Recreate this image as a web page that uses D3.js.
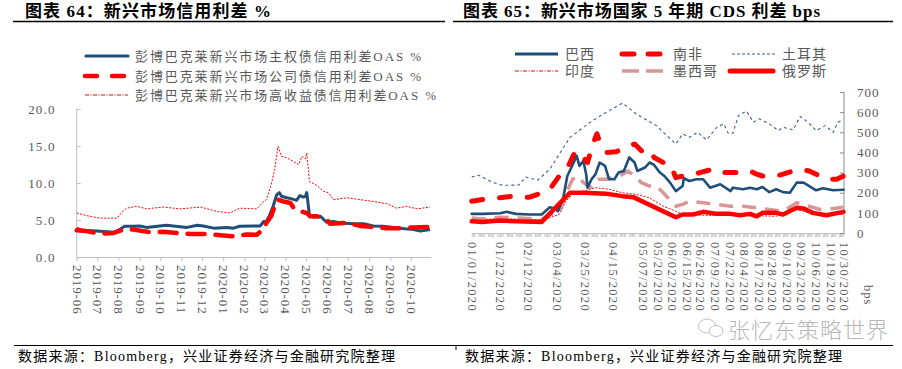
<!DOCTYPE html>
<html><head><meta charset="utf-8">
<script src="https://cdn.jsdelivr.net/npm/d3@7"></script>
<style>
body{margin:0;background:#fff}
svg{display:block}
text{font-family:"Liberation Serif","Noto Sans CJK SC",serif}
</style>
</head><body>
<svg id="c" width="902" height="369"></svg>
<script>
// ---------- Left chart data (%): 新兴市场信用利差 ----------
const leftSeriesNames = ["彭博巴克莱新兴市场主权债信用利差OAS %","彭博巴克莱新兴市场公司债信用利差OAS %","彭博巴克莱新兴市场高收益债信用利差OAS %"];
const sovereign = [["2019-06-01",3.9],["2019-06-08",3.6],["2019-06-30",3.5],["2019-07-25",3.35],["2019-07-31",3.55],["2019-08-10",4.15],["2019-08-23",4.15],["2019-09-01",4.2],["2019-09-11",4.0],["2019-09-30",4.2],["2019-10-10",4.3],["2019-10-30",4.1],["2019-11-09",4.0],["2019-11-24",4.3],["2019-12-03",4.2],["2019-12-18",3.9],["2020-01-06",4.0],["2020-01-16",3.9],["2020-01-25",4.15],["2020-02-14",4.2],["2020-02-24",4.2],["2020-02-29",4.8],["2020-03-04",4.8],["2020-03-09",5.7],["2020-03-14",6.9],["2020-03-19",8.4],["2020-03-23",8.7],["2020-03-26",8.2],["2020-04-03",8.0],["2020-04-10",7.85],["2020-04-17",7.65],["2020-04-22",8.3],["2020-04-27",8.1],["2020-04-30",8.2],["2020-05-02",8.7],["2020-05-06",5.6],["2020-05-12",5.4],["2020-05-22",5.5],["2020-05-31",4.7],["2020-06-10",4.8],["2020-06-20",4.6],["2020-07-09",4.5],["2020-07-24",4.5],["2020-08-07",4.2],["2020-08-22",4.15],["2020-09-15",3.9],["2020-10-05",3.7],["2020-10-15",3.5],["2020-10-29",3.7]];
const corporate = [["2019-06-01",3.6],["2019-06-15",3.5],["2019-07-05",3.15],["2019-07-25",3.25],["2019-08-08",3.7],["2019-08-23",3.7],["2019-09-16",3.35],["2019-10-05",3.4],["2019-10-25",3.25],["2019-11-14",3.1],["2019-12-08",3.1],["2019-12-28",2.95],["2020-01-16",2.8],["2020-02-04",3.05],["2020-02-19",3.0],["2020-02-29",3.8],["2020-03-04",4.6],["2020-03-11",5.5],["2020-03-16",6.85],["2020-03-21",7.75],["2020-03-29",7.5],["2020-04-08",7.3],["2020-04-13",6.6],["2020-04-22",6.2],["2020-05-02",5.95],["2020-05-07",5.5],["2020-05-17",5.5],["2020-05-31",5.05],["2020-06-05",4.5],["2020-06-30",4.6],["2020-07-19",4.2],["2020-08-07",4.05],["2020-08-27",3.9],["2020-09-15",3.9],["2020-10-05",4.0],["2020-10-29",4.05]];
const highYield = [["2019-06-01",5.95],["2019-06-15",5.6],["2019-07-05",5.25],["2019-07-30",5.25],["2019-08-05",5.95],["2019-08-13",6.6],["2019-08-28",6.85],["2019-09-11",6.5],["2019-10-05",6.75],["2019-10-30",6.5],["2019-11-29",6.75],["2019-12-23",6.15],["2020-01-11",5.95],["2020-01-25",6.6],["2020-02-19",6.5],["2020-02-29",7.5],["2020-03-04",7.75],["2020-03-11",9.75],["2020-03-16",11.8],["2020-03-21",14.95],["2020-03-26",13.6],["2020-04-03",13.4],["2020-04-13",12.9],["2020-04-20",12.5],["2020-04-25",13.6],["2020-04-30",13.25],["2020-05-02",14.05],["2020-05-06",10.2],["2020-05-17",9.65],["2020-05-26",8.9],["2020-06-03",8.65],["2020-06-10",7.75],["2020-06-30",8.0],["2020-07-19",7.75],["2020-08-07",7.5],["2020-08-27",7.2],["2020-09-10",6.6],["2020-09-25",6.85],["2020-10-10",6.5],["2020-10-29",6.75]];
const leftYTicks = [0,5,10,15,20];
const leftXStart = "2019-06-01", leftXEnd = "2020-10-30", leftLastTick = "2020-10-01";

// ---------- Right chart data (bps): 5年期CDS ----------
const rightSeriesNames = ["巴西","南非","土耳其","印度","墨西哥","俄罗斯"];
const brazil = [["01-01",95],["01-09",95],["01-22",98],["01-27",105],["02-03",95],["02-13",92],["02-22",92],["02-28",128],["03-03",122],["03-05",108],["03-09",175],["03-12",283],["03-15",325],["03-19",383],["03-21",333],["03-24",358],["03-26",292],["03-27",225],["03-30",267],["04-02",292],["04-05",350],["04-09",333],["04-12",267],["04-16",267],["04-19",300],["04-23",308],["04-27",375],["05-01",350],["05-03",308],["05-09",325],["05-13",350],["05-17",338],["05-22",300],["05-26",283],["05-31",250],["06-05",208],["06-11",233],["06-12",272],["06-17",258],["06-23",267],["06-29",267],["07-05",225],["07-14",242],["07-23",208],["07-25",225],["08-03",217],["08-09",225],["08-15",217],["08-20",228],["08-26",203],["09-01",217],["09-07",203],["09-13",200],["09-19",250],["09-25",250],["09-30",233],["10-06",212],["10-12",222],["10-21",212],["10-30",215]];
const southAfrica = [["01-01",158],["01-14",172],["01-22",175],["02-01",183],["02-07",175],["02-13",178],["02-19",192],["02-28",217],["03-06",283],["03-11",308],["03-14",350],["03-17",392],["03-21",408],["03-24",375],["03-27",350],["03-31",442],["04-03",492],["04-06",433],["04-10",400],["04-17",403],["04-22",417],["05-01",442],["05-06",408],["05-13",417],["05-17",375],["05-25",350],["05-31",342],["06-05",275],["06-11",283],["06-17",283],["06-26",300],["07-08",317],["07-14",300],["07-23",300],["07-28",300],["08-09",308],["08-15",292],["08-20",283],["09-01",283],["09-07",292],["09-16",308],["09-22",317],["09-30",308],["10-06",292],["10-15",267],["10-24",267],["10-30",283]];
const turkey = [["01-01",278],["01-06",287],["01-17",250],["01-24",237],["02-05",238],["02-10",278],["02-19",262],["02-28",317],["03-14",475],["03-29",550],["04-10",600],["04-22",645],["05-02",592],["05-19",533],["06-05",442],["06-11",492],["06-17",475],["06-24",500],["07-02",462],["07-11",525],["07-17",542],["07-21",495],["07-25",495],["07-30",583],["08-06",605],["08-12",550],["08-17",567],["08-26",542],["09-03",508],["09-07",525],["09-16",512],["09-22",578],["09-29",550],["10-06",508],["10-14",533],["10-21",500],["10-25",550],["10-30",562]];
const india = [["01-01",67],["01-22",70],["02-13",68],["02-23",65],["03-06",92],["03-11",158],["03-16",192],["03-24",208],["04-02",225],["04-12",217],["04-22",200],["05-02",192],["05-13",175],["05-25",133],["06-05",108],["06-11",92],["06-29",88],["07-23",87],["08-20",85],["09-01",83],["09-19",117],["10-06",92],["10-30",92]];
const mexico = [["01-01",75],["01-09",70],["01-22",78],["02-03",75],["02-15",70],["02-22",67],["02-28",92],["03-06",95],["03-11",200],["03-16",267],["03-20",283],["03-24",250],["03-29",225],["04-04",267],["04-10",267],["04-15",275],["04-20",283],["04-26",308],["05-01",283],["05-06",250],["05-13",233],["05-19",233],["05-25",200],["05-29",175],["06-05",133],["06-11",142],["06-17",158],["06-29",150],["07-11",142],["07-23",133],["08-03",133],["08-15",125],["08-26",117],["09-07",108],["09-19",150],["09-30",133],["10-09",117],["10-21",122],["10-30",128]];
const russia = [["01-01",58],["01-09",55],["01-22",62],["02-03",58],["02-22",55],["03-14",200],["03-24",200],["04-10",195],["04-22",183],["04-30",178],["06-05",78],["06-11",92],["06-20",92],["06-29",105],["07-11",95],["07-23",95],["07-31",88],["08-09",95],["08-15",83],["08-20",100],["09-01",100],["09-07",92],["09-19",125],["09-25",122],["10-03",100],["10-15",88],["10-30",105]];
const rightXLabels = ["01/01/2020","01/22/2020","02/12/2020","03/04/2020","03/25/2020","04/15/2020","05/07/2020","05/20/2020","06/02/2020","06/15/2020","06/26/2020","07/09/2020","07/22/2020","08/04/2020","08/17/2020","08/28/2020","09/10/2020","09/23/2020","10/06/2020","10/19/2020","10/30/2020"];
const rightYTicks = [0,100,200,300,400,500,600,700];

// ---------- drawing ----------
const svg = d3.select("#c");
const grey = "#595959", axisCol = "#bfbfbf";
const navy = "#1f4e79", red = "#ff0000", pink = "#d99694", tBlue = "#3d5f94";
const parse = d3.timeParse("%Y-%m-%d");
const parseR = s => parse("2020-" + s);
const parseLbl = d3.timeParse("%m/%d/%Y");

// Titles
svg.append("text").attr("x",25).attr("y",17).attr("font-size",17).attr("font-weight","bold").attr("fill","#000")
  .attr("textLength",246).attr("lengthAdjust","spacing").text("图表 64：新兴市场信用利差  %");
svg.append("line").attr("x1",13).attr("x2",445).attr("y1",21.5).attr("y2",21.5).attr("stroke","#000").attr("stroke-width",1.3);
svg.append("text").attr("x",463).attr("y",17).attr("font-size",17).attr("font-weight","bold").attr("fill","#000")
  .attr("textLength",357).attr("lengthAdjust","spacing").text("图表 65：新兴市场国家 5 年期 CDS 利差  bps");
svg.append("line").attr("x1",453).attr("x2",893).attr("y1",21.5).attr("y2",21.5).attr("stroke","#000").attr("stroke-width",1.3);

// ===== Left chart =====
const xL = d3.scaleTime().domain([parse(leftXStart), parse(leftXEnd)]).range([76.7, 430.7]);
const yL = d3.scaleLinear().domain([0,20]).range([257,109]);

const gLy = svg.append("g").attr("transform","translate(76.7,0)")
  .call(d3.axisLeft(yL).tickValues(leftYTicks).tickSize(-4).tickSizeOuter(0).tickPadding(21).tickFormat(d3.format(".1f")));
const gLx = svg.append("g").attr("transform","translate(0,257)")
  .call(d3.axisBottom(xL).tickValues(d3.timeMonth.range(parse(leftXStart), d3.timeDay.offset(parse(leftLastTick),1))).tickSize(4).tickSizeOuter(0).tickFormat(d3.timeFormat("%Y-%m")));
[gLy,gLx].forEach(g=>{
  g.selectAll("path,line").attr("stroke",axisCol);
  g.selectAll("text").attr("fill",grey).attr("font-size",13).style("letter-spacing","1.2px");
});
gLy.select(".domain").attr("d","M0,257V109");
gLx.selectAll("text").attr("transform","rotate(90)").attr("x",8).attr("y",0).attr("dy","0.35em").attr("text-anchor","start").style("letter-spacing","0.9px");

const lineL = d3.line().x(d=>xL(parse(d[0]))).y(d=>yL(d[1]));
svg.append("path").datum(highYield).attr("d",lineL).attr("fill","none").attr("stroke",red).attr("stroke-width",1).attr("stroke-dasharray","2,1.5");
svg.append("path").datum(sovereign).attr("d",lineL).attr("fill","none").attr("stroke",navy).attr("stroke-width",3).attr("stroke-linejoin","round");
svg.append("path").datum(corporate).attr("d",lineL).attr("fill","none").attr("stroke",red).attr("stroke-width",4.5).attr("stroke-dasharray","17,11").attr("stroke-linecap","round").attr("stroke-linejoin","round");

// left legend
const legL = [
  {y:56, stroke:navy, w:3.2, dash:null, cap:"round", x1:86, x2:128, len:286},
  {y:76, stroke:red, w:4.5, dash:"12,15", cap:"round", x1:85, x2:128, len:286},
  {y:95, stroke:red, w:1, dash:"4,1.5,1,1.5", cap:"butt", x1:85, x2:128, len:301}
];
legL.forEach((l,i)=>{
  svg.append("line").attr("x1",l.x1).attr("x2",l.x2).attr("y1",l.y).attr("y2",l.y)
    .attr("stroke",l.stroke).attr("stroke-width",l.w).attr("stroke-dasharray",l.dash).attr("stroke-linecap",l.cap);
  svg.append("text").attr("x",135).attr("y",l.y+4.5).attr("font-size",13).attr("fill",grey)
    .attr("textLength",l.len).attr("lengthAdjust","spacing").text(leftSeriesNames[i]);
});

// ===== Right chart =====
const xR = d3.scaleTime().domain([parseR("01-01"), parseR("05-07"), parseR("10-30")]).range([471.7, 642.7, 843.5]);
const yR = d3.scaleLinear().domain([0,700]).range([233,92]);

// minor ticks (each trading day)
const days = d3.timeDay.range(parseR("01-01"), d3.timeDay.offset(parseR("10-30"),1)).filter(d=>d.getDay()!==0 && d.getDay()!==6);
const gRx = svg.append("g").attr("transform","translate(0,233)")
  .call(d3.axisBottom(xR).tickValues(days).tickSize(4).tickSizeOuter(0).tickFormat(""));
gRx.selectAll("path,line").attr("stroke","#c8c8c8");
gRx.select(".domain").attr("stroke",axisCol);

const gRxl = svg.append("g").attr("transform","translate(0,233)")
  .call(d3.axisBottom(xR).tickValues(rightXLabels.map(parseLbl)).tickSize(0).tickSizeOuter(0).tickFormat(d3.timeFormat("%m/%d/%Y")));
gRxl.select(".domain").remove();
gRxl.selectAll("text").attr("transform","rotate(90)").attr("x",9).attr("y",0).attr("dy","0.35em").attr("text-anchor","start")
  .attr("fill",grey).attr("font-size",12.5).style("letter-spacing","1.3px");

const gRy = svg.append("g").attr("transform","translate(844,0)")
  .call(d3.axisRight(yR).tickValues(rightYTicks).tickSize(-4).tickSizeOuter(0).tickPadding(13));
gRy.selectAll("path,line").attr("stroke","#8c8c8c");
gRy.selectAll("text").attr("fill",grey).attr("font-size",13).style("letter-spacing","1px");
gRy.select(".domain").attr("d","M0,92V233");

svg.append("text").attr("transform","translate(864,285) rotate(90)").attr("font-size",12.5).attr("fill",grey).style("letter-spacing","1px").text("bps");

const lineR = d3.line().x(d=>xR(parseR(d[0]))).y(d=>yR(d[1]));
const rStyles = [
  {data:turkey, stroke:tBlue, w:1.1, dash:"3,3", cap:"butt"},
  {data:india, stroke:red, w:1, dash:"2,1.5", cap:"butt"},
  {data:mexico, stroke:pink, w:3.5, dash:"14,9", cap:"butt"},
  {data:brazil, stroke:navy, w:2.6, dash:null, cap:"round"},
  {data:russia, stroke:red, w:4.5, dash:null, cap:"round"},
  {data:southAfrica, stroke:red, w:5, dash:"11,17", cap:"round"}
];
rStyles.forEach(s=>{
  svg.append("path").datum(s.data).attr("d",lineR).attr("fill","none").attr("stroke",s.stroke)
    .attr("stroke-width",s.w).attr("stroke-dasharray",s.dash).attr("stroke-linecap",s.cap).attr("stroke-linejoin","round");
});

// right legend
const legR = [
  {name:rightSeriesNames[0], x:515, y:54, stroke:navy, w:3, dash:null, cap:"butt", tx:565},
  {name:rightSeriesNames[1], x:622, y:54, stroke:red, w:5, dash:"12,14", cap:"round", tx:673},
  {name:rightSeriesNames[2], x:732, y:54, stroke:tBlue, w:1.1, dash:"3,2", cap:"butt", tx:782},
  {name:rightSeriesNames[3], x:515, y:71, stroke:red, w:1, dash:"4,1.5,1,1.5", cap:"butt", tx:565},
  {name:rightSeriesNames[4], x:622, y:71, stroke:pink, w:3.5, dash:"17,7", cap:"butt", tx:673},
  {name:rightSeriesNames[5], x:730, y:71, stroke:red, w:5, dash:null, cap:"round", tx:782}
];
legR.forEach(l=>{
  svg.append("line").attr("x1",l.x).attr("x2",l.x+43).attr("y1",l.y).attr("y2",l.y)
    .attr("stroke",l.stroke).attr("stroke-width",l.w).attr("stroke-dasharray",l.dash).attr("stroke-linecap",l.cap);
  svg.append("text").attr("x",l.tx).attr("y",l.y+5).attr("font-size",14).attr("fill",grey).style("letter-spacing","1px").text(l.name);
});

// watermark
const wm = svg.append("g").attr("opacity",0.6);
wm.append("ellipse").attr("cx",707).attr("cy",326).attr("rx",8.5).attr("ry",7).attr("fill","none").attr("stroke","#999").attr("stroke-width",1);
wm.append("ellipse").attr("cx",716).attr("cy",331).attr("rx",7).attr("ry",5.5).attr("fill","#fff").attr("stroke","#999").attr("stroke-width",1);
wm.append("text").attr("x",728).attr("y",338).attr("font-size",22).attr("fill","#888").attr("font-family","Noto Sans CJK SC").attr("font-weight",300)
  .attr("textLength",160).attr("lengthAdjust","spacing").text("张忆东策略世界");

// footer
svg.append("line").attr("x1",14).attr("x2",893).attr("y1",345.5).attr("y2",345.5).attr("stroke","#000").attr("stroke-width",1);
svg.append("line").attr("x1",456).attr("x2",456).attr("y1",345).attr("y2",350).attr("stroke","#000").attr("stroke-width",1);
svg.append("text").attr("x",18).attr("y",361).attr("font-size",14).attr("fill","#000")
  .attr("textLength",377).attr("lengthAdjust","spacing").text("数据来源：Bloomberg，兴业证券经济与金融研究院整理");
svg.append("text").attr("x",465).attr("y",361).attr("font-size",14).attr("fill","#000")
  .attr("textLength",377).attr("lengthAdjust","spacing").text("数据来源：Bloomberg，兴业证券经济与金融研究院整理");
</script>
</body></html>
